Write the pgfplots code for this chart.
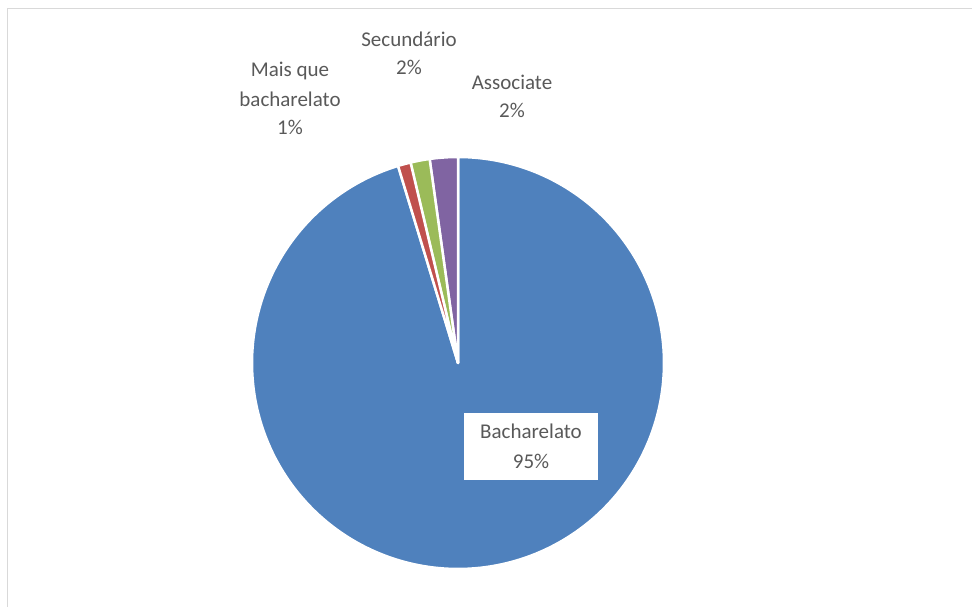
\documentclass[border=0pt]{standalone}
\usepackage{pgfplots}
\pgfplotsset{compat=1.18}
\usepackage{fontspec}
\setmainfont{Carlito}
\definecolor{cBlue}{HTML}{4F81BD}
\definecolor{cRed}{HTML}{C0504D}
\definecolor{cGreen}{HTML}{9BBB59}
\definecolor{cPurple}{HTML}{8064A2}
\definecolor{cText}{HTML}{595959}
\definecolor{cFrame}{HTML}{D9D9D9}
% shares in percent
\def\vAssociate{2.2}
\def\vSecundario{1.5}
\def\vMais{1.0}
\def\vBach{95.3}
\tikzset{lbl/.style={anchor=base, inner sep=0pt, text=cText, font=\fontsize{21bp}{29bp}\selectfont}}
\begin{document}
\begin{tikzpicture}
\pgfmathsetmacro\aZero{90}
\pgfmathsetmacro\aOne{\aZero+3.6*\vAssociate}
\pgfmathsetmacro\aTwo{\aOne+3.6*\vSecundario}
\pgfmathsetmacro\aThree{\aTwo+3.6*\vMais}
\pgfmathsetmacro\aFour{\aThree+3.6*\vBach}
\begin{axis}[
  width=972bp, height=607bp, scale only axis,
  xmin=0, xmax=972, ymin=0, ymax=607,
  hide axis, clip=false,
]
\coordinate (sw) at (axis cs:0,0);
\coordinate (ne) at (axis cs:972,607);
% frame
\addplot[cFrame, line width=1.5bp] coordinates {(7.5,0) (7.5,598.5) (972,598.5)};
% wedges
\addplot[fill=cBlue, draw=white, line width=2.5bp, line join=round, domain=\aThree:\aFour, samples=240]
  ({458+206*cos(x)},{244+206*sin(x)}) -- (axis cs:458,244) -- cycle;
\addplot[fill=cPurple, draw=white, line width=2.5bp, line join=round, domain=\aZero:\aOne, samples=20]
  ({458+206*cos(x)},{244+206*sin(x)}) -- (axis cs:458,244) -- cycle;
\addplot[fill=cGreen, draw=white, line width=2.5bp, line join=round, domain=\aOne:\aTwo, samples=20]
  ({458+206*cos(x)},{244+206*sin(x)}) -- (axis cs:458,244) -- cycle;
\addplot[fill=cRed, draw=white, line width=2.5bp, line join=round, domain=\aTwo:\aThree, samples=20]
  ({458+206*cos(x)},{244+206*sin(x)}) -- (axis cs:458,244) -- cycle;
% labels
\node[lbl] at (axis cs:290,530) {Mais que};
\node[lbl] at (axis cs:290,500) {bacharelato};
\node[lbl] at (axis cs:290,472) {1\%};
\node[lbl] at (axis cs:409,560) {Secundário};
\node[lbl] at (axis cs:409,532) {2\%};
\node[lbl] at (axis cs:512,517) {Associate};
\node[lbl] at (axis cs:512,489) {2\%};
\fill[white] (axis cs:464,127) rectangle (axis cs:598,194);
\node[lbl] at (axis cs:531,168) {Bacharelato};
\node[lbl] at (axis cs:531,138) {95\%};
\end{axis}
\pgfresetboundingbox
\useasboundingbox (sw) rectangle (ne);
\end{tikzpicture}
\end{document}
